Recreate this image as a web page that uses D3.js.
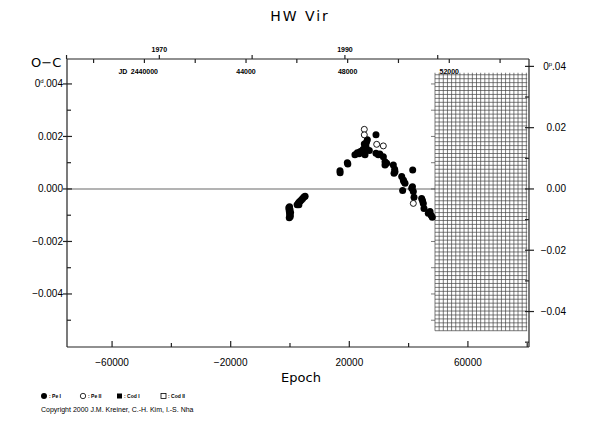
<!DOCTYPE html>
<html>
<head>
<meta charset="utf-8">
<script src="https://cdn.jsdelivr.net/npm/d3@7"></script>
<style>
  body { margin: 0; background: #fff; }
  svg text { fill: #000; }
</style>
</head>
<body>
<svg id="chart" width="590" height="425"></svg>
<script>
// primary minima (Pe I), epoch / O-C in days
var peIEpoch = [-400, -300, -200, -100, 0, 100, -250, 0, 200, -150,
    2400, 2800, 3100, 3500, 3900, 4300, 4700, 5100, 3000,
    16860, 16900, 19330, 19500,
    21900, 22700, 23300, 23600, 24200, 24700, 25300, 25060, 26080, 25630, 26750, 25800, 29000,
    29000, 29790, 30300, 31480, 32040, 32600, 32040, 34850, 35410, 35080, 35300, 37670, 38220,
    38790, 38400, 37990, 41040, 41590, 41820, 41380, 41300, 44400, 44960, 45190, 44700, 47220,
    47990, 46640, 47600]
var peIOC = [-0.00072, -0.00080, -0.00088, -0.00095, -0.00100, -0.00105, -0.00110, -0.00078, -0.00090, -0.00068,
    -0.00060, -0.00054, -0.00050, -0.00046, -0.00041, -0.00036, -0.00031, -0.00028, -0.00060,
    0.00069, 0.00062, 0.00100, 0.00095,
    0.00130, 0.00138, 0.00134, 0.00142, 0.00145, 0.00151, 0.00130, 0.00171, 0.00187, 0.00161, 0.00146, 0.00178, 0.00206,
    0.00136, 0.00130, 0.00133, 0.00123, 0.00104, 0.00098, 0.00091, 0.00091, 0.00066, 0.00060, 0.00075, 0.00047, 0.00034,
    0.00022, 0.00028, -0.00006, 0.00003, -0.00010, -0.00032, 0.00072, 0.00008, -0.00036, -0.00055, -0.00074, -0.00045, -0.00086,
    -0.00108, -0.00093, -0.00100]
// secondary minima (Pe II)
var peIIEpoch = [25060, 25060, 29240, 31470, 41590]
var peIIOC = [0.00227, 0.00206, 0.00170, 0.00164, -0.00055]

var epochTicks = [-60000, -20000, 20000, 60000]
var epochMinor = [-40000, 0, 40000, 80000]
var ocTicks = [0.004, 0.002, 0, -0.002, -0.004]
var ocMinor = [0.003, 0.001, -0.001, -0.003, -0.005]
var phaseTicks = [0.04, 0.02, 0, -0.02, -0.04]
var phaseMinor = [0.03, 0.01, -0.01, -0.03, -0.05]
var jdLabels = [2440000, 2444000, 2448000, 2452000]
var yearTicks = [1960, 1970, 1980, 1990, 2000]
var yearLabels = [1970, 1990]

var T0 = 2445730.557, P = 0.1167195
var gridEpoch = [48900, 80000], gridOC = [0.00435, -0.0054]

var svg = d3.select('#chart')
var conf = { left: 67, right: 529, top: 59, bottom: 347 }

var x = d3.scaleLinear().domain([-75200, 80600]).range([conf.left, conf.right])
var y = d3.scaleLinear().domain([-0.00602, 0.00495]).range([conf.bottom, conf.top])
var yP = d3.scaleLinear().domain(y.domain().map(d => d / P)).range(y.range())
var jdX = jd => x((jd - T0) / P)
var yearToJD = yr => 2440587.5 + (yr - 1970) * 365.25

var ink = '#222'
var fmt3 = d => d3.format('.3f')(d).replace('-', '\u2212')
var fmt2 = d => d3.format('.2f')(d).replace('-', '\u2212')
var tickFont = '10px "Liberation Sans", Arial, sans-serif'
var smallFont = 'bold 7px "Liberation Sans", Arial, sans-serif'

// title
svg.append('text').attr('x', 300).attr('y', 21).attr('text-anchor', 'middle')
    .style('font', '14px "DejaVu Sans"').style('letter-spacing', '2px')
    .text('HW  Vir')

// zero line
svg.append('line')
    .attr('x1', conf.left).attr('x2', x(gridEpoch[0]))
    .attr('y1', y(0)).attr('y2', y(0))
    .attr('stroke', '#9a9a9a').attr('stroke-width', 1.5)

// hatched region of future epochs
var g = svg.append('g').attr('stroke', '#444').attr('stroke-width', 0.7)
d3.range(gridEpoch[0], gridEpoch[1] + 1, 1400).forEach(e => {
    g.append('line').attr('x1', x(e)).attr('x2', x(e))
        .attr('y1', y(gridOC[0]) - 2).attr('y2', y(gridOC[1]))
})
d3.range(gridOC[1], gridOC[0] + 1e-6, 0.00015).forEach(v => {
    g.append('line').attr('x1', x(gridEpoch[0])).attr('x2', x(gridEpoch[1]))
        .attr('y1', y(v)).attr('y2', y(v))
})
ocTicks.concat(ocMinor).filter(v => v <= gridOC[0] && v >= gridOC[1]).forEach(v => {
    g.append('line').attr('x1', x(gridEpoch[0]) - 4).attr('x2', x(gridEpoch[0]))
        .attr('y1', y(v)).attr('y2', y(v))
})

// frame
var frame = svg.append('g').attr('stroke', ink).attr('stroke-width', 1.2)
frame.append('line').attr('x1', conf.left).attr('x2', conf.left).attr('y1', conf.top).attr('y2', conf.bottom)
frame.append('line').attr('x1', conf.right).attr('x2', conf.right).attr('y1', conf.top).attr('y2', conf.bottom)
frame.append('line').attr('x1', conf.left).attr('x2', conf.right).attr('y1', conf.top).attr('y2', conf.top)
frame.append('line').attr('x1', conf.left).attr('x2', conf.right).attr('y1', conf.bottom).attr('y2', conf.bottom)

// label with a small raised unit mark after the leading 0 (0d.004, 0p.04)
function unitLabel(t, mark, rest) {
    t.append('tspan').text('0')
    t.append('tspan').attr('dy', -4).style('font-size', '6px').text(mark)
    t.append('tspan').attr('dy', 4).text(rest)
}

// left axis
ocTicks.forEach(v => {
    frame.append('line').attr('x1', conf.left - 4).attr('x2', conf.left + 5).attr('y1', y(v)).attr('y2', y(v))
})
ocMinor.forEach(v => {
    frame.append('line').attr('x1', conf.left).attr('x2', conf.left + 4).attr('y1', y(v)).attr('y2', y(v))
})
ocTicks.forEach(v => {
    var t = svg.append('text').attr('x', 63).attr('y', y(v) + 3.5).attr('text-anchor', 'end')
        .style('font', tickFont)
    if (v === ocTicks[0]) unitLabel(t, 'd', '.004')
    else t.text(fmt3(v))
})
svg.append('text').attr('x', 31).attr('y', 67)
    .style('font', '13px "DejaVu Sans"').text('O\u2212C')

// right axis (phase)
phaseTicks.forEach(v => {
    frame.append('line').attr('x1', conf.right - 4).attr('x2', conf.right + 5).attr('y1', yP(v)).attr('y2', yP(v))
})
phaseMinor.filter(v => yP(v) < conf.bottom).forEach(v => {
    frame.append('line').attr('x1', conf.right - 4).attr('x2', conf.right).attr('y1', yP(v)).attr('y2', yP(v))
})
phaseTicks.forEach(v => {
    var t = svg.append('text').attr('x', 566).attr('y', yP(v) + 3.5).attr('text-anchor', 'end')
        .style('font', tickFont)
    if (v === phaseTicks[0]) unitLabel(t, 'p', '.04')
    else t.text(fmt2(v))
})

// bottom axis
epochTicks.forEach(v => {
    frame.append('line').attr('x1', x(v)).attr('x2', x(v)).attr('y1', conf.bottom).attr('y2', conf.bottom - 6)
    svg.append('text').attr('x', x(v)).attr('y', 366).attr('text-anchor', 'middle')
        .style('font', tickFont)
        .text(String(v).replace('-', '\u2212'))
})
epochMinor.forEach(v => {
    frame.append('line').attr('x1', x(v)).attr('x2', x(v)).attr('y1', conf.bottom).attr('y2', conf.bottom - 4)
})
svg.append('text').attr('x', 301).attr('y', 382).attr('text-anchor', 'middle')
    .style('font', '13px "DejaVu Sans"').text('Epoch')

// top axis: JD ticks down, years up
d3.range(2438000, 2456001, 2000).filter(jd => jdX(jd) > conf.left && jdX(jd) < conf.right).forEach(jd => {
    frame.append('line').attr('x1', jdX(jd)).attr('x2', jdX(jd)).attr('y1', conf.top).attr('y2', conf.top + 4)
})
jdLabels.forEach((jd, i) => {
    svg.append('text').attr('x', jdX(jd)).attr('y', 74).attr('text-anchor', 'middle')
        .style('font', smallFont)
        .text(i === 0 ? String(jd) : String(jd).slice(2))
})
svg.append('text').attr('x', jdX(jdLabels[0]) - 17).attr('y', 74).attr('text-anchor', 'end')
    .style('font', smallFont).text('JD')
yearTicks.forEach(yr => {
    var px = jdX(yearToJD(yr))
    if (px < conf.left - 0.5 || px > conf.right) return
    frame.append('line').attr('x1', px).attr('x2', px).attr('y1', conf.top).attr('y2', conf.top - 4)
})
yearLabels.forEach(yr => {
    svg.append('text').attr('x', jdX(yearToJD(yr))).attr('y', 52).attr('text-anchor', 'middle')
        .style('font', smallFont).text(yr)
})

// data
var dots = svg.append('g')
peIEpoch.forEach((e, i) => {
    dots.append('circle').attr('cx', x(e)).attr('cy', y(peIOC[i])).attr('r', 3.5).attr('fill', '#000')
})
peIIEpoch.forEach((e, i) => {
    dots.append('circle').attr('cx', x(e)).attr('cy', y(peIIOC[i])).attr('r', 3)
        .attr('fill', '#fff').attr('stroke', '#000').attr('stroke-width', 0.9)
})

// legend
var lg = svg.append('g')
var lf = 'bold 5px "Liberation Sans", Arial, sans-serif'
lg.append('circle').attr('cx', 44).attr('cy', 396).attr('r', 3).attr('fill', '#000')
lg.append('text').attr('x', 49).attr('y', 398).style('font', lf).text(': Pe I')
lg.append('circle').attr('cx', 83).attr('cy', 396).attr('r', 2.7).attr('fill', '#fff').attr('stroke', '#000').attr('stroke-width', 0.8)
lg.append('text').attr('x', 88).attr('y', 398).style('font', lf).text(': Pe II')
lg.append('rect').attr('x', 117).attr('y', 393.5).attr('width', 5).attr('height', 5).attr('fill', '#000')
lg.append('text').attr('x', 124).attr('y', 398).style('font', lf).text(': Cod I')
lg.append('rect').attr('x', 161).attr('y', 393.5).attr('width', 5).attr('height', 5).attr('fill', '#fff').attr('stroke', '#000').attr('stroke-width', 0.8)
lg.append('text').attr('x', 168).attr('y', 398).style('font', lf).text(': Cod II')

svg.append('text').attr('x', 41).attr('y', 412)
    .style('font', '7px "Liberation Sans", Arial, sans-serif')
    .text('Copyright 2000 J.M. Kreiner, C.-H. Kim, I.-S. Nha')
</script>
</body>
</html>
